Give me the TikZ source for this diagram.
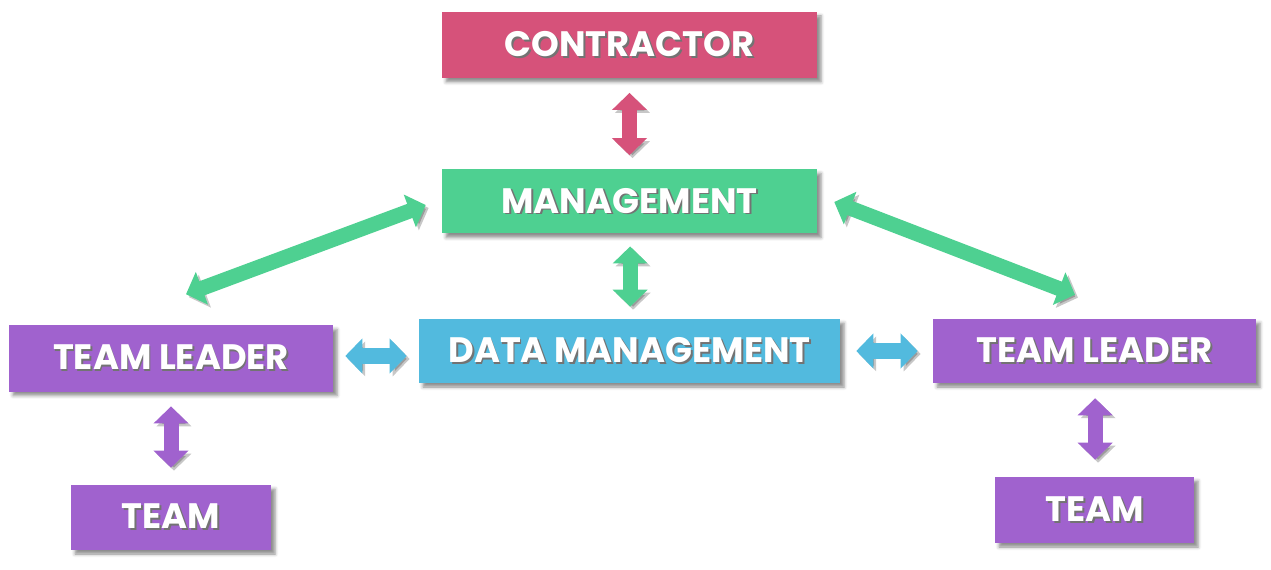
\documentclass[tikz,border=0pt]{standalone}
\usepackage{fontspec}
\newfontfamily\labfont{Poppins}
\usetikzlibrary{arrows.meta,shadows.blur,calc}
\definecolor{cpink}{RGB}{214,82,122}
\definecolor{cgreen}{RGB}{78,208,145}
\definecolor{cblue}{RGB}{82,186,222}
\definecolor{cpurple}{RGB}{160,98,206}
\newcommand\shtext[1]{\rlap{\kern1.4pt\raisebox{-1.4pt}{\color{black!55}#1}}#1}
\tikzset{
  box/.style={rectangle, inner sep=0pt, text=white,
    font=\labfont\bfseries\fontsize{26.5}{30}\selectfont,
    blur shadow={shadow xshift=3pt, shadow yshift=-3pt, shadow blur radius=2.5pt, shadow opacity=45}},
  fat/.style={line width=11.25pt, {Triangle[width=25.5pt,length=12.75pt]}-{Triangle[width=25.5pt,length=12.75pt]},
    preaction={draw=black, opacity=0.22, transform canvas={shift={(2.2pt,-2.2pt)}}}},
}
\begin{document}
\begin{tikzpicture}[x=0.75pt,y=-0.75pt]
\useasboundingbox (0,0) rectangle (1271,570);
\node[box, fill=cpink, minimum width=281.25pt, minimum height=49.5pt] (con) at (629.5,45) {\shtext{CONTRACTOR}};
\node[box, fill=cgreen, minimum width=281.25pt, minimum height=48pt] (mg) at (629.5,201.5) {\shtext{MANAGEMENT}};
\node[box, fill=cblue, minimum width=315.75pt, minimum height=48pt] (dm) at (629.5,351) {\shtext{DATA MANAGEMENT}};
\node[box, fill=cpurple, minimum width=243pt, minimum height=49.5pt] (tll) at (171,358.5) {\shtext{TEAM LEADER}};
\node[box, fill=cpurple, minimum width=242.25pt, minimum height=48pt] (tlr) at (1094.5,351) {\shtext{TEAM LEADER}};
\node[box, fill=cpurple, minimum width=150pt, minimum height=48.75pt] (tml) at (171,517.5) {\shtext{TEAM}};
\node[box, fill=cpurple, minimum width=149.25pt, minimum height=49.5pt] (tmr) at (1094.5,510) {\shtext{TEAM}};
% free ends of the diagonal arrows
\coordinate (dl1) at ([shift={(-16,3.5)}]mg.west);
\coordinate (dl2) at ([shift={(15,-31)}]tll.north);
\coordinate (dr1) at ([shift={(17,0.5)}]mg.east);
\coordinate (dr2) at ([shift={(-19.5,-24)}]tlr.north);
\coordinate (bl1) at ([shift={(12,-2.5)}]tll.east);
\coordinate (bl2) at ([shift={(-12,5)}]dm.west);
% connectors
\draw[fat, cpink, shorten <=11pt, shorten >=10.5pt] (con.south) -- (mg.north);
\draw[fat, cgreen, shorten <=9.5pt, shorten >=9pt] ([xshift=0.5]mg.south) -- ([xshift=0.5]dm.north);
\draw[fat, cgreen] (dl1) -- (dl2);
\draw[fat, cgreen] (dr1) -- (dr2);
\draw[fat, cblue] (bl1) -- (bl2);
\draw[fat, cblue, shorten <=12pt, shorten >=11.25pt] (dm.east) -- (tlr.west);
\draw[fat, cpurple, shorten <=11pt, shorten >=12.75pt] (tll.south) -- (tml.north);
\draw[fat, cpurple, shorten <=11.25pt, shorten >=12.75pt] ([xshift=0.5]tlr.south) -- ([xshift=0.5]tmr.north);
\end{tikzpicture}
\end{document}
